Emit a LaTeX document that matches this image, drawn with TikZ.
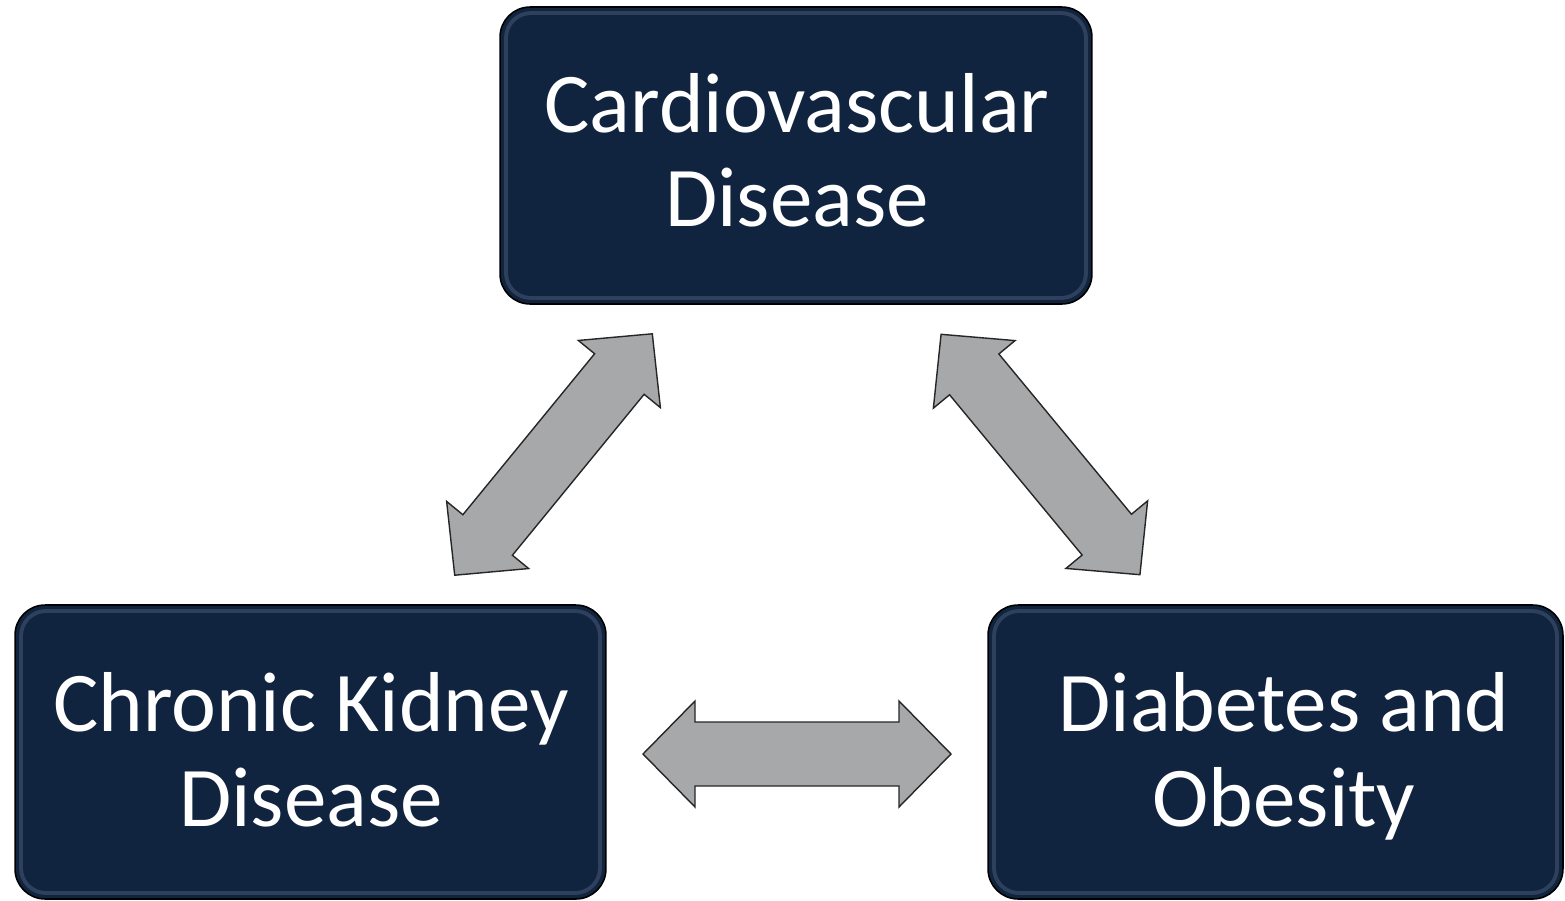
\documentclass[tikz,border=0pt]{standalone}
\usepackage{fontspec}
\setmainfont{Carlito}
\definecolor{navy}{RGB}{17,36,63}
\definecolor{bevel}{RGB}{70,88,115}
\definecolor{arrowgray}{RGB}{167,168,170}
\definecolor{arrowline}{RGB}{38,38,38}
\tikzset{
  box/.style={draw=black, line width=0.9pt, fill=navy, rounded corners=0.6cm, inner sep=0pt},
  boxglow/.style={draw=bevel, line width=2.2pt, rounded corners=0.5cm, opacity=0.55},
  lbl/.style={anchor=base, text=white, inner sep=0pt, font=\fontsize{48.4}{58}\selectfont},
  blockarrow/.style={draw=arrowline, line width=0.8pt, fill=arrowgray, line join=miter}
}
\newcommand{\dblblock}[1]{%
  \path[blockarrow] (-#1,0) -- (-#1+52,53) -- (-#1+52,32) -- (#1-52,32) -- (#1-52,53)
     -- (#1,0) -- (#1-52,-53) -- (#1-52,-32) -- (-#1+52,-32) -- (-#1+52,-53) -- cycle;}
\begin{document}
\begin{tikzpicture}[x=0.02cm, y=-0.02cm]
\useasboundingbox (0,0) rectangle (1565,900);
% boxes
\node[box, minimum width=11.84cm, minimum height=5.94cm] (cvd) at (796,155.5) {};
\node[box, minimum width=11.82cm, minimum height=5.88cm] (ckd) at (310.5,752) {};
\node[box, minimum width=11.5cm, minimum height=5.88cm] (dob) at (1275.5,752) {};
% inner bevel
\draw[boxglow] (506,13) rectangle (1086,298);
\draw[boxglow] (21,611) rectangle (600,893);
\draw[boxglow] (994,611) rectangle (1557,893);
% labels
\node[lbl] (cvd1) at (797,132) {Cardiovascular};
\node[lbl] (cvd2) at (797,226) {Disease};
\node[lbl] (ckd1) at (311,731) {Chronic Kidney};
\node[lbl] (ckd2) at (311,826) {Disease};
\node[lbl] (dob1) at (1284,731) {Diabetes and};
\node[lbl] (dob2) at (1284,826) {Obesity};
% arrows
\begin{scope}[shift={(553.5,454.5)}, rotate=50.7]
  \dblblock{156}
\end{scope}
\begin{scope}[shift={(1040.5,454.5)}, rotate=-50.4]
  \dblblock{156}
\end{scope}
\begin{scope}[shift={(797,754)}]
  \dblblock{154}
\end{scope}
\end{tikzpicture}
\end{document}
